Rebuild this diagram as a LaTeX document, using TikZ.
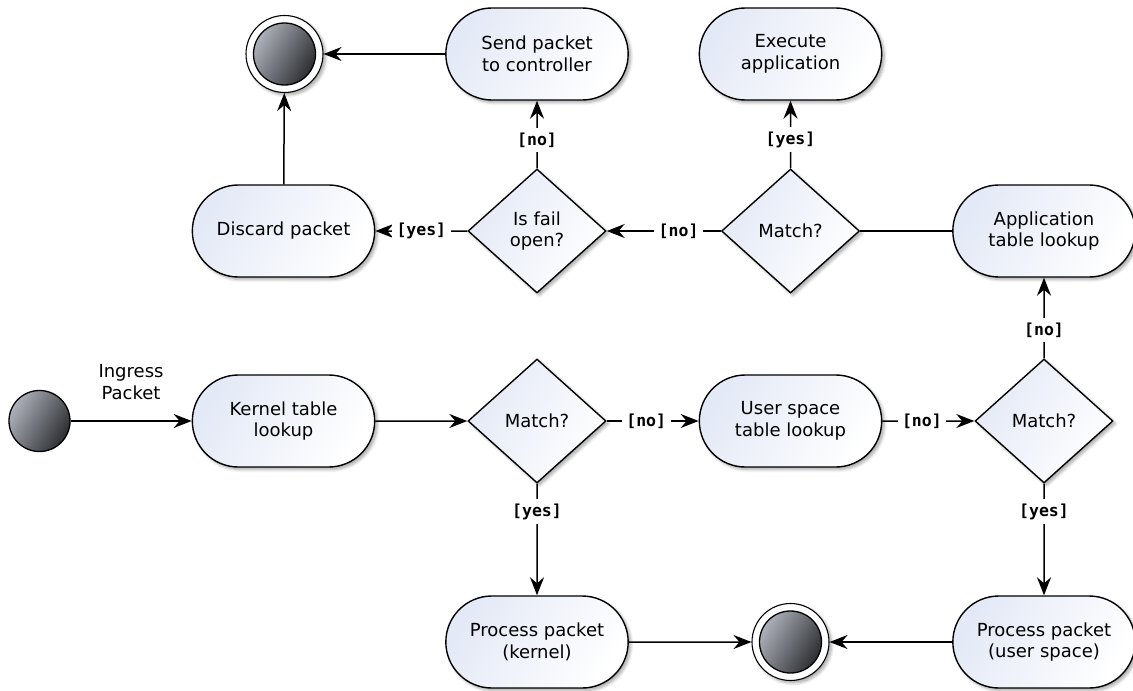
\documentclass[tikz,border=0pt]{standalone}
\usepackage{fontspec}
\setmainfont{DejaVu Sans}
\newfontfamily\guardfont{DejaVu Sans Mono}
\usetikzlibrary{shapes.geometric,shapes.misc,arrows.meta,shadows.blur}
\definecolor{boxtop}{HTML}{E3E9F6}
\definecolor{dotlight}{HTML}{ADB1BA}
\definecolor{dotdark}{HTML}{2C2E31}
\tikzset{
  shad/.style={blur shadow={shadow xshift=2.5pt, shadow yshift=-2.5pt, shadow blur steps=6, shadow opacity=35, shadow blur radius=3pt}},
  act/.style={rounded rectangle, draw=black, line width=1.4pt, minimum width=189pt, minimum height=92pt,
    align=center, shad, shading=axis, top color=boxtop, bottom color=white, shading angle=60,
    font=\fontsize{18}{21.5}\selectfont},
  dec/.style={diamond, draw=black, line width=1.4pt, minimum width=138pt, minimum height=124pt, inner sep=0pt,
    align=center, shad, shading=axis, top color=boxtop, bottom color=white, shading angle=60,
    font=\fontsize{18}{21.5}\selectfont},
  dot/.style={circle, draw=black, line width=1.3pt, minimum size=61pt, inner sep=0pt,
    shading=axis, top color=dotlight, bottom color=dotdark, shading angle=60},
  ring/.style={circle, draw=black, line width=1.1pt, minimum size=77pt, inner sep=0pt, fill=white, shad},
  flow/.style={line width=1.5pt, -{Stealth[length=18pt, width=14pt, inset=6pt]}},
  plain/.style={line width=1.5pt},
  guard/.style={fill=white, inner sep=4.5pt, font=\guardfont\bfseries\fontsize{16.5}{19}\selectfont},
  note/.style={align=center, font=\fontsize{18}{21.5}\selectfont},
}
\begin{document}
\begin{tikzpicture}[x=1pt,y=-1pt]
\useasboundingbox (0,0) rectangle (1133,691);
% nodes
\node[dot] (start) at (39.5,421) {};
\node[note] (ingress) at (131,382) {Ingress\\Packet};
\node[act] (kernel) at (283.5,421) {Kernel table\\lookup};
\node[dec] (m1) at (537,421) {Match?};
\node[act] (user) at (790.5,421) {User space\\table lookup};
\node[dec] (m2) at (1044,421) {Match?};
\node[act] (app) at (1044,231) {Application\\table lookup};
\node[dec] (m3) at (790.5,231) {Match?};
\node[dec] (fail) at (537,231) {Is fail\\open?};
\node[act] (discard) at (283.5,231) {Discard packet};
\node[act] (send) at (537,54) {Send packet\\to controller};
\node[act] (exec) at (790.5,54) {Execute\\application};
\node[ring] (endA) at (284.5,54) {};
\node[dot, minimum size=62pt] (endAin) at (284.5,54) {};
\node[act] (pk) at (537,642) {Process packet\\(kernel)};
\node[ring] (endB) at (790.5,642) {};
\node[dot, minimum size=62pt] (endBin) at (790.5,642) {};
\node[act] (pu) at (1044,642) {Process packet\\(user space)};
% edges
\draw[flow] (start) -- (kernel);
\draw[flow] (kernel) -- (m1);
\draw[flow] (m1) -- node[guard, pos=0.43]{[no]} (user);
\draw[flow] (user) -- node[guard, pos=0.43]{[no]} (m2);
\draw[flow] (m2) -- node[guard, pos=0.35]{[no]} (app);
\draw[plain] (app) -- (m3);
\draw[flow] (m3) -- node[guard, pos=0.37]{[no]} (fail);
\draw[flow] (m3) -- node[guard, pos=0.42]{[yes]} (exec);
\draw[flow] (fail) -- node[guard, pos=0.42]{[no]} (send);
\draw[flow] (fail) -- node[guard, pos=0.5]{[yes]} (discard);
\draw[flow] (discard) -- (endA);
\draw[flow] (send) -- (endA);
\draw[flow] (m1) -- node[guard, pos=0.25]{[yes]} (pk);
\draw[flow] (m2) -- node[guard, pos=0.25]{[yes]} (pu);
\draw[flow] (pk) -- (endB);
\draw[flow] (pu) -- (endB);
\end{tikzpicture}
\end{document}
